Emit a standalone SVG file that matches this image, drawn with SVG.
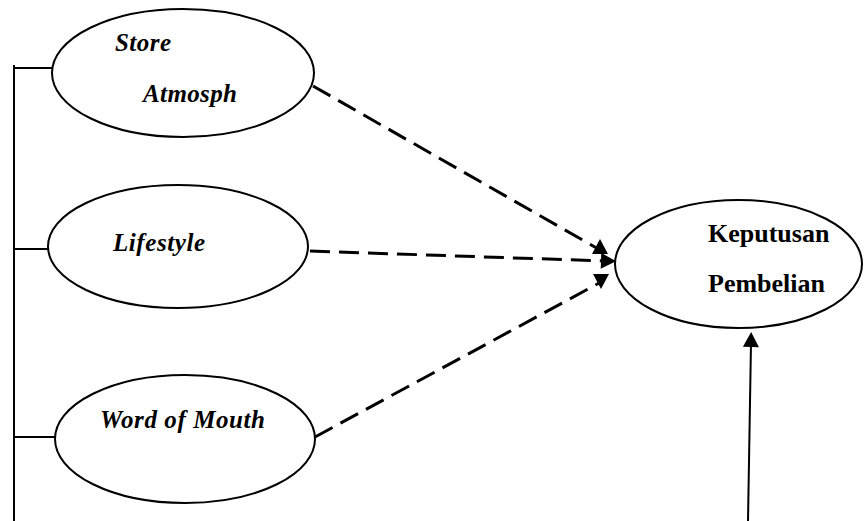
<svg xmlns="http://www.w3.org/2000/svg" width="864" height="521" viewBox="0 0 864 521">
<style>
.node ellipse{fill:#fff;stroke:#000;stroke-width:2}
.it{font-family:"Liberation Serif","Times New Roman",serif;font-weight:bold;font-style:italic;font-size:25px;fill:#000}
.bd{font-family:"Liberation Serif","Times New Roman",serif;font-weight:bold;font-size:26px;fill:#000}
.solid{stroke:#000;stroke-width:2;fill:none}
.dash{stroke:#000;stroke-width:3;fill:none;stroke-dasharray:20 9}
</style>
<defs>
<marker id="ah" markerUnits="userSpaceOnUse" markerWidth="18" markerHeight="18" viewBox="0 -9 16 18" refX="4" refY="0" orient="auto"><path d="M0,-8 L15,0 L0,8 z" fill="#000"/></marker>
<marker id="ahUp" markerUnits="userSpaceOnUse" markerWidth="18" markerHeight="18" viewBox="0 -9 16 18" refX="4" refY="0" orient="-90"><path d="M0,-8 L15,0 L0,8 z" fill="#000"/></marker>
<marker id="ahDown" markerUnits="userSpaceOnUse" markerWidth="18" markerHeight="18" viewBox="0 -9 16 18" refX="8" refY="0" orient="90"><path d="M0,-8 L15,0 L0,8 z" fill="#000"/></marker>
</defs>
<g id="connectors">
<path class="solid" d="M14,65 V521"/>
<path class="solid" d="M14,68 H52"/>
<path class="solid" d="M14,249 H48"/>
<path class="solid" d="M14,437 H55"/>
<path class="dash" d="M313,86 L600,250" marker-end="url(#ahUp)"/>
<path class="dash" d="M310,251 L605,261" marker-end="url(#ah)"/>
<path class="dash" d="M315,437 L601,282" marker-end="url(#ahDown)"/>
<path class="solid" d="M748,521 L751,343" marker-end="url(#ah)"/>
</g>
<g id="store" class="node">
<ellipse cx="183" cy="73" rx="131" ry="64"/>
<text class="it" x="115" y="51" textLength="56">Store</text>
<text class="it" x="143" y="102" textLength="94">Atmosph</text>
</g>
<g id="lifestyle" class="node">
<ellipse cx="178" cy="246.5" rx="130" ry="61.5"/>
<text class="it" x="113" y="251" textLength="92">Lifestyle</text>
</g>
<g id="wom" class="node">
<ellipse cx="185" cy="439" rx="130" ry="64"/>
<text class="it" x="100" y="428" textLength="165">Word of Mouth</text>
</g>
<g id="keputusan" class="node">
<ellipse cx="738.5" cy="264" rx="123.5" ry="64"/>
<text class="bd" x="708" y="242">Keputusan</text>
<text class="bd" x="708" y="292">Pembelian</text>
</g>
</svg>
